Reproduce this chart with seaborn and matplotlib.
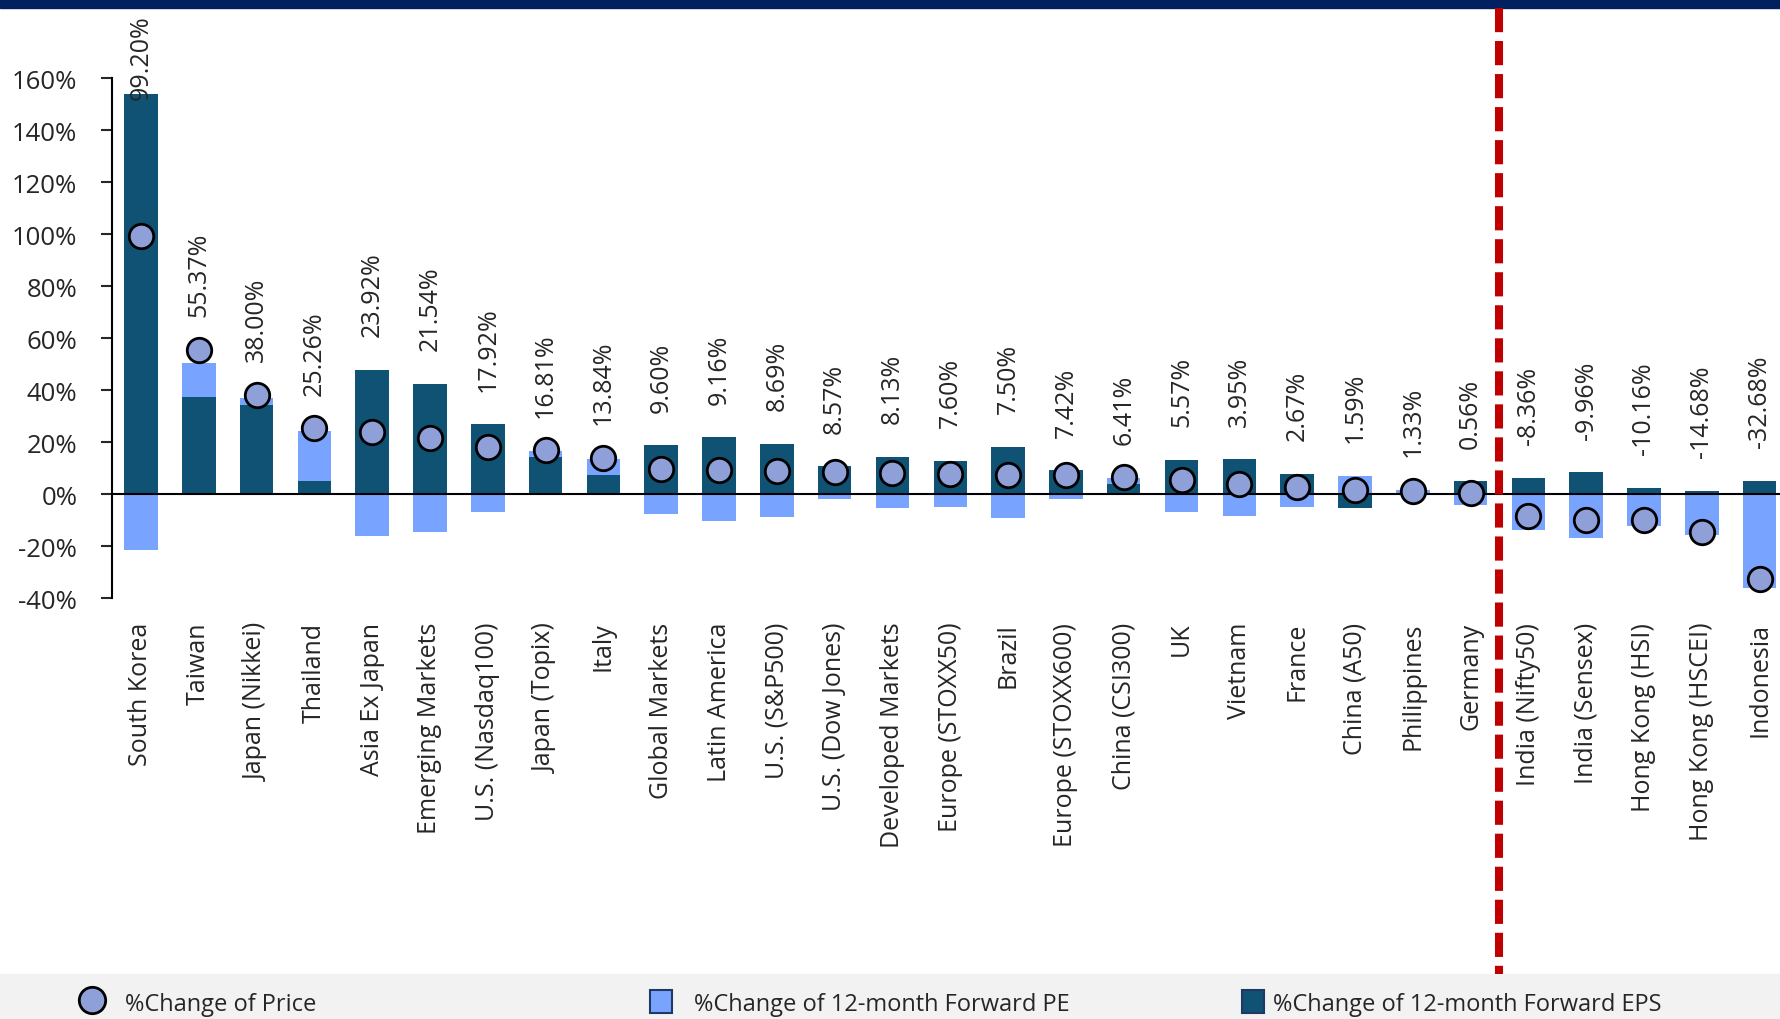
import numpy as np
import pandas as pd
import seaborn as sns
import matplotlib.pyplot as plt
from matplotlib.lines import Line2D
from matplotlib.patches import Patch, Rectangle
from matplotlib import transforms

markets = [
    "South Korea", "Taiwan", "Japan (Nikkei)", "Thailand", "Asia Ex Japan",
    "Emerging Markets", "U.S. (Nasdaq100)", "Japan (Topix)", "Italy",
    "Global Markets", "Latin America", "U.S. (S&P500)", "U.S. (Dow Jones)",
    "Developed Markets", "Europe (STOXX50)", "Brazil", "Europe (STOXX600)",
    "China (CSI300)", "UK", "Vietnam", "France", "China (A50)", "Philippines",
    "Germany", "India (Nifty50)", "India (Sensex)", "Hong Kong (HSI)",
    "Hong Kong (HSCEI)", "Indonesia",
]
price_chg = [99.20, 55.37, 38.00, 25.26, 23.92, 21.54, 17.92, 16.81, 13.84,
             9.60, 9.16, 8.69, 8.57, 8.13, 7.60, 7.50, 7.42, 6.41, 5.57,
             3.95, 2.67, 1.59, 1.33, 0.56, -8.36, -9.96, -10.16, -14.68, -32.68]
eps_chg = [154.0, 37.3, 34.2, 5.1, 47.6, 42.3, 26.8, 14.1, 7.2,
           18.7, 21.8, 19.2, 10.6, 14.2, 12.9, 18.2, 9.1, 3.9, 13.2,
           13.3, 7.9, -5.4, 0.0, 4.9, 6.3, 8.3, 2.3, 1.3, 5.1]
pe_chg = [-21.7, 13.2, 2.8, 19.1, -16.0, -14.7, -7.0, 2.3, 6.1,
          -7.7, -10.5, -9.0, -2.0, -5.5, -5.0, -9.4, -1.8, 2.3, -6.9,
          -8.3, -5.0, 7.1, 1.5, -4.4, -14.0, -16.8, -12.4, -15.9, -36.2]
y_ticks = [-40, -20, 0, 20, 40, 60, 80, 100, 120, 140, 160]

DARK = "#0F5274"
LIGHT = "#78A3FF"
DOT = "#8FA0D9"
RED = "#C00000"
NAVY = "#002060"

sns.set_style("white")
plt.rcParams["font.family"] = ["Open Sans", "DejaVu Sans"]
plt.rcParams["font.size"] = 18

df = pd.DataFrame({"market": markets, "price": price_chg,
                   "eps": eps_chg, "pe": pe_chg})
df["pos"] = np.arange(len(df))
# PE sits on top of EPS when both move the same way, otherwise starts at 0
same_sign = np.sign(df["pe"]) == np.sign(df["eps"])
df["pe_bottom"] = np.where(same_sign, df["eps"], 0.0)

fig = plt.figure(figsize=(17.81, 10.20), dpi=100)
ax = fig.add_axes([0.0629, 0.4127, 0.9371, 0.5098])

sns.barplot(data=df, x="market", y="eps", order=markets, color=DARK,
            saturation=1, width=0.58, errorbar=None, ax=ax, zorder=2,
            linewidth=0)
sns.barplot(data=df, x="market", y="pe", order=markets, color=LIGHT,
            saturation=1, width=0.58, errorbar=None, ax=ax, zorder=2,
            linewidth=0, bottom=df["pe_bottom"].to_numpy())
sns.scatterplot(data=df, x="pos", y="price", s=310, color=DOT,
                edgecolor="black", linewidth=2, zorder=4, ax=ax, legend=False)

# value labels above each column
stack_top = np.maximum(df["eps"], 0) + np.maximum(df["pe"], 0)
for i, row in df.iterrows():
    top = max(stack_top[i], row["price"], 0)
    ax.text(row["pos"], min(top + 13, 152), f"{row['price']:.2f}%",
            rotation=90, ha="center", va="bottom", fontsize=18,
            clip_on=False, zorder=5)

ax.axhline(0, color="black", lw=1.5, zorder=3)
ax.set_ylim(-40, 160)
ax.set_xlim(-0.5, 28.37)
ax.set_yticks(y_ticks)
ax.set_yticklabels([f"{v}%" for v in y_ticks])
ax.set_xlabel("")
ax.set_ylabel("")
ax.tick_params(axis="y", direction="out", length=8, width=1.5,
               pad=17, labelsize=18.5, left=True)
ax.tick_params(axis="x", length=0, pad=17, labelsize=18, labelrotation=90)
for side in ["top", "right", "bottom"]:
    ax.spines[side].set_visible(False)
ax.spines["left"].set_linewidth(1.5)
ax.spines["left"].set_color("black")

# red dashed divider running from header band to legend band
trans = transforms.blended_transform_factory(ax.transData, fig.transFigure)
fig.add_artist(Line2D([23.5, 23.5], [1 - 9 / 1020, 45 / 1020], transform=trans,
                      color=RED, lw=5.8, dashes=(3, 1.1), zorder=6))

# header band and legend band
fig.add_artist(Rectangle((0, 1 - 9 / 1020), 1, 9 / 1020,
                         transform=fig.transFigure, color=NAVY, zorder=0))
fig.add_artist(Rectangle((0, 0), 1, 45 / 1020, transform=fig.transFigure,
                         color="#F2F2F2", zorder=0))

leg_kw = dict(loc="center left", frameon=False, borderpad=0,
              borderaxespad=0, fontsize=17, handleheight=1.1)
h_price = Line2D([], [], marker="o", ls="none", markersize=19,
                 markerfacecolor=DOT, markeredgecolor="black",
                 markeredgewidth=2, label="%Change of Price")
h_pe = Patch(facecolor=LIGHT, edgecolor="#1F3864", lw=1.5,
             label="%Change of 12-month Forward PE")
h_eps = Patch(facecolor=DARK, edgecolor="#1F3864", lw=1.5,
              label="%Change of 12-month Forward EPS")
fig.legend(handles=[h_price], bbox_to_anchor=(0.0444, 0.0157),
           handlelength=1.1, handletextpad=0.85, **leg_kw)
fig.legend(handles=[h_pe], bbox_to_anchor=(0.365, 0.0157),
           handlelength=0.95, handletextpad=0.9, **leg_kw)
fig.legend(handles=[h_eps], bbox_to_anchor=(0.6974, 0.0157),
           handlelength=0.95, handletextpad=0.35, **leg_kw)

fig.savefig("out.png", dpi=100)
